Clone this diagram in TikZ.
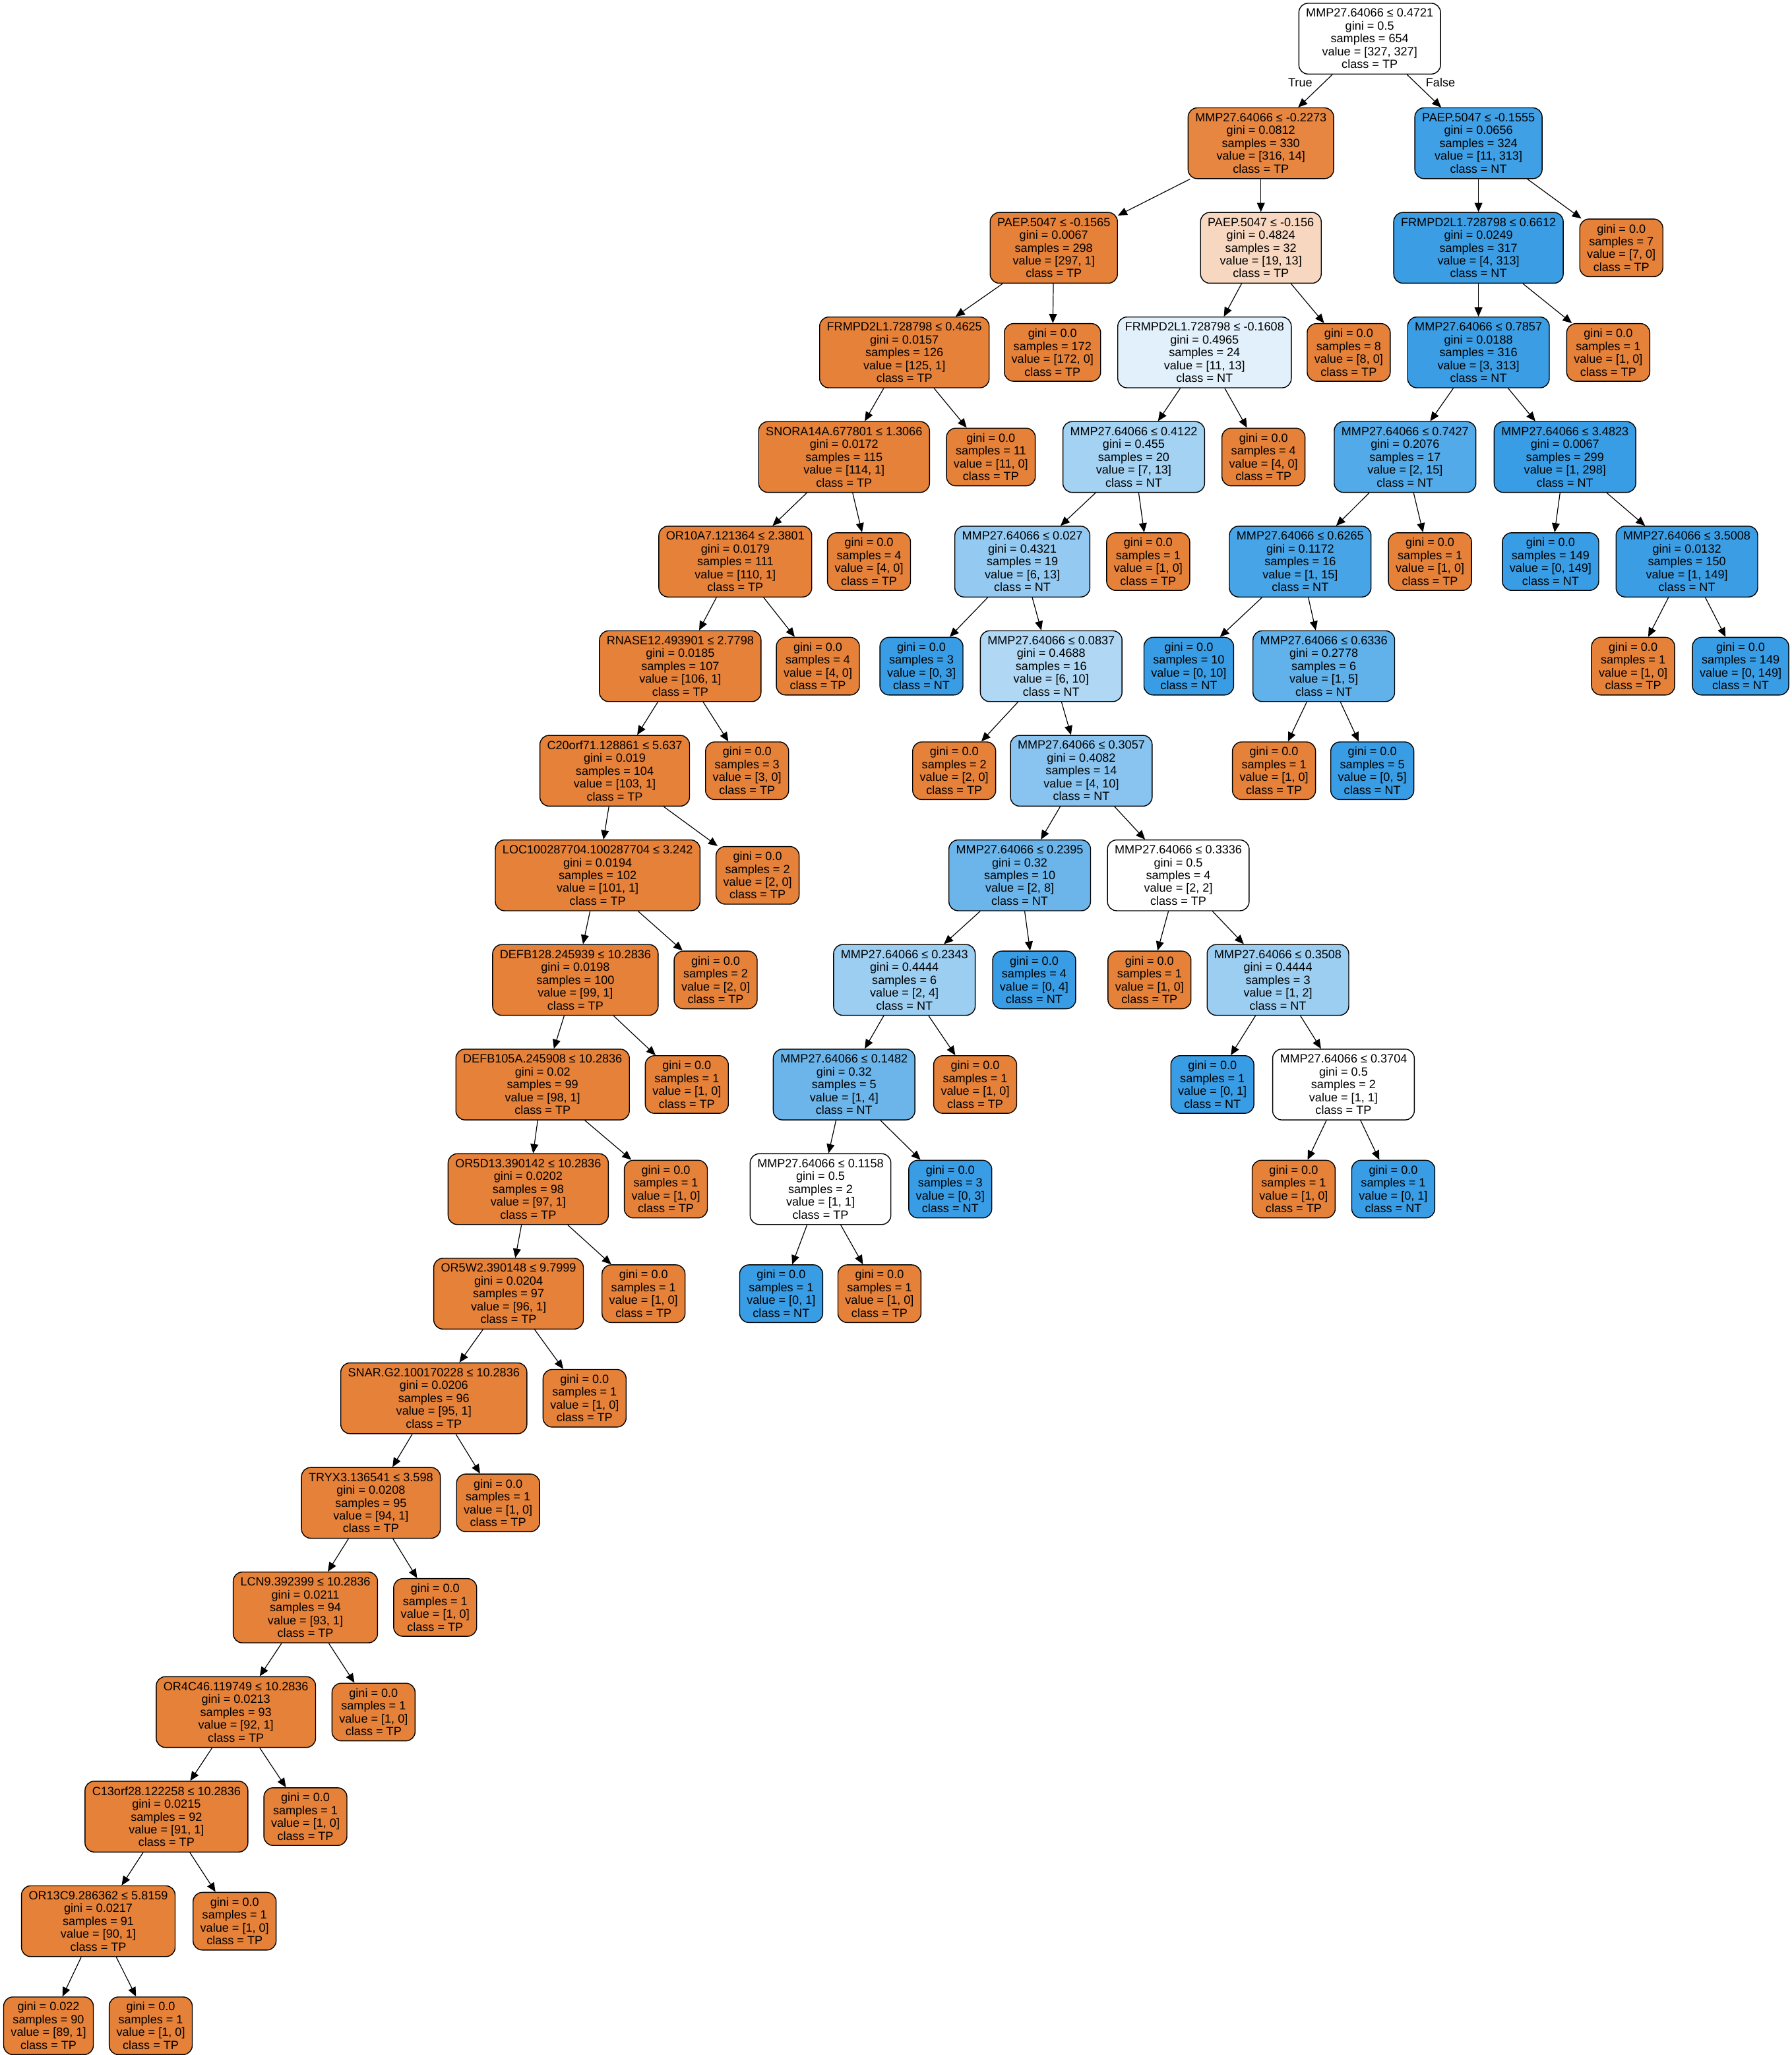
\documentclass[tikz,border=0pt]{standalone}
\usepackage{fontspec}
\setmainfont{Liberation Sans}
\usetikzlibrary{arrows.meta}
\definecolor{TPcol}{RGB}{229,129,57}
\definecolor{NTcol}{RGB}{57,157,229}
\definecolor{RuleCol}{RGB}{0,0,0}
\tikzset{
  dtbox/.style={draw=RuleCol, line width=0.7pt, rounded corners=7pt, align=center, inner xsep=5.5pt, inner ysep=1pt, font=\fontsize{9.1}{9.8}\selectfont},
  dtsplit/.style={dtbox, minimum height=54pt},
  dtleaf/.style={dtbox, minimum height=44pt},
  dttp/.style={fill=TPcol},
  dtnt/.style={fill=NTcol},
  dtedge/.style={-{Triangle[length=7pt,width=6pt]}, line width=0.6pt, draw=RuleCol},
  dtlab/.style={font=\fontsize{9.1}{9.8}\selectfont, inner sep=0pt}
}
\begin{document}
\begin{tikzpicture}[x=1pt,y=-79.8pt]
  \useasboundingbox (0pt,29.5pt) rectangle (1367pt,-1538.5pt);
  \node[dtsplit,fill=white] (n0) at (1045,0) {MMP27.64066 ≤ 0.4721\\gini = 0.5\\samples = 654\\value = [327, 327]\\class = TP};
  \node[dtsplit,fill=TPcol!96!white] (n1) at (962,1) {MMP27.64066 ≤ -0.2273\\gini = 0.0812\\samples = 330\\value = [316, 14]\\class = TP};
  \node[dtsplit,fill=NTcol!97!white] (n64) at (1128,1) {PAEP.5047 ≤ -0.1555\\gini = 0.0656\\samples = 324\\value = [11, 313]\\class = NT};
  \node[dtlab] (ltrue) at (992,0.42) {True};
  \node[dtlab] (lfalse) at (1099,0.42) {False};

  \node[dtsplit,dttp] (n2) at (804,2) {PAEP.5047 ≤ -0.1565\\gini = 0.0067\\samples = 298\\value = [297, 1]\\class = TP};
  \node[dtsplit,dttp] (n3) at (690,3) {FRMPD2L1.728798 ≤ 0.4625\\gini = 0.0157\\samples = 126\\value = [125, 1]\\class = TP};
  \node[dtsplit,dttp] (n4) at (644,4) {SNORA14A.677801 ≤ 1.3066\\gini = 0.0172\\samples = 115\\value = [114, 1]\\class = TP};
  \node[dtsplit,dttp] (n5) at (561,5) {OR10A7.121364 ≤ 2.3801\\gini = 0.0179\\samples = 111\\value = [110, 1]\\class = TP};
  \node[dtsplit,dttp] (n6) at (519,6) {RNASE12.493901 ≤ 2.7798\\gini = 0.0185\\samples = 107\\value = [106, 1]\\class = TP};
  \node[dtsplit,dttp] (n7) at (469,7) {C20orf71.128861 ≤ 5.637\\gini = 0.019\\samples = 104\\value = [103, 1]\\class = TP};
  \node[dtsplit,dttp] (n8) at (456,8) {LOC100287704.100287704 ≤ 3.242\\gini = 0.0194\\samples = 102\\value = [101, 1]\\class = TP};
  \node[dtsplit,dttp] (n9) at (439,9) {DEFB128.245939 ≤ 10.2836\\gini = 0.0198\\samples = 100\\value = [99, 1]\\class = TP};
  \node[dtsplit,dttp] (n10) at (414,10) {DEFB105A.245908 ≤ 10.2836\\gini = 0.02\\samples = 99\\value = [98, 1]\\class = TP};
  \node[dtsplit,dttp] (n11) at (403,11) {OR5D13.390142 ≤ 10.2836\\gini = 0.0202\\samples = 98\\value = [97, 1]\\class = TP};
  \node[dtsplit,dttp] (n12) at (388,12) {OR5W2.390148 ≤ 9.7999\\gini = 0.0204\\samples = 97\\value = [96, 1]\\class = TP};
  \node[dtsplit,dttp] (n13) at (331,13) {SNAR.G2.100170228 ≤ 10.2836\\gini = 0.0206\\samples = 96\\value = [95, 1]\\class = TP};
  \node[dtsplit,dttp] (n14) at (283,14) {TRYX3.136541 ≤ 3.598\\gini = 0.0208\\samples = 95\\value = [94, 1]\\class = TP};
  \node[dtsplit,dttp] (n15) at (233,15) {LCN9.392399 ≤ 10.2836\\gini = 0.0211\\samples = 94\\value = [93, 1]\\class = TP};
  \node[dtsplit,dttp] (n16) at (180,16) {OR4C46.119749 ≤ 10.2836\\gini = 0.0213\\samples = 93\\value = [92, 1]\\class = TP};
  \node[dtsplit,dttp] (n17) at (127,17) {C13orf28.122258 ≤ 10.2836\\gini = 0.0215\\samples = 92\\value = [91, 1]\\class = TP};
  \node[dtsplit,dttp] (n18) at (75,18) {OR13C9.286362 ≤ 5.8159\\gini = 0.0217\\samples = 91\\value = [90, 1]\\class = TP};
  \node[dtleaf,dttp] (n19) at (37,19) {gini = 0.022\\samples = 90\\value = [89, 1]\\class = TP};
  \node[dtleaf,dttp] (n20) at (115,19) {gini = 0.0\\samples = 1\\value = [1, 0]\\class = TP};
  \node[dtleaf,dttp] (n21) at (179,18) {gini = 0.0\\samples = 1\\value = [1, 0]\\class = TP};
  \node[dtleaf,dttp] (n22) at (233,17) {gini = 0.0\\samples = 1\\value = [1, 0]\\class = TP};
  \node[dtleaf,dttp] (n23) at (285,16) {gini = 0.0\\samples = 1\\value = [1, 0]\\class = TP};
  \node[dtleaf,dttp] (n24) at (332,15) {gini = 0.0\\samples = 1\\value = [1, 0]\\class = TP};
  \node[dtleaf,dttp] (n25) at (380,14) {gini = 0.0\\samples = 1\\value = [1, 0]\\class = TP};
  \node[dtleaf,dttp] (n26) at (446,13) {gini = 0.0\\samples = 1\\value = [1, 0]\\class = TP};
  \node[dtleaf,dttp] (n27) at (491,12) {gini = 0.0\\samples = 1\\value = [1, 0]\\class = TP};
  \node[dtleaf,dttp] (n28) at (508,11) {gini = 0.0\\samples = 1\\value = [1, 0]\\class = TP};
  \node[dtleaf,dttp] (n29) at (524,10) {gini = 0.0\\samples = 1\\value = [1, 0]\\class = TP};
  \node[dtleaf,dttp] (n30) at (546,9) {gini = 0.0\\samples = 2\\value = [2, 0]\\class = TP};
  \node[dtleaf,dttp] (n31) at (578,8) {gini = 0.0\\samples = 2\\value = [2, 0]\\class = TP};
  \node[dtleaf,dttp] (n32) at (570,7) {gini = 0.0\\samples = 3\\value = [3, 0]\\class = TP};
  \node[dtleaf,dttp] (n33) at (624,6) {gini = 0.0\\samples = 4\\value = [4, 0]\\class = TP};
  \node[dtleaf,dttp] (n34) at (663,5) {gini = 0.0\\samples = 4\\value = [4, 0]\\class = TP};
  \node[dtleaf,dttp] (n35) at (756,4) {gini = 0.0\\samples = 11\\value = [11, 0]\\class = TP};
  \node[dtleaf,dttp] (n36) at (803,3) {gini = 0.0\\samples = 172\\value = [172, 0]\\class = TP};

  \node[dtsplit,fill=TPcol!32!white] (n37) at (962,2) {PAEP.5047 ≤ -0.156\\gini = 0.4824\\samples = 32\\value = [19, 13]\\class = TP};
  \node[dtsplit,fill=NTcol!15!white] (n38) at (919,3) {FRMPD2L1.728798 ≤ -0.1608\\gini = 0.4965\\samples = 24\\value = [11, 13]\\class = NT};
  \node[dtsplit,fill=NTcol!46!white] (n39) at (865,4) {MMP27.64066 ≤ 0.4122\\gini = 0.455\\samples = 20\\value = [7, 13]\\class = NT};
  \node[dtsplit,fill=NTcol!54!white] (n40) at (780,5) {MMP27.64066 ≤ 0.027\\gini = 0.4321\\samples = 19\\value = [6, 13]\\class = NT};
  \node[dtleaf,dtnt] (n41) at (703,6) {gini = 0.0\\samples = 3\\value = [0, 3]\\class = NT};
  \node[dtsplit,fill=NTcol!40!white] (n42) at (802,6) {MMP27.64066 ≤ 0.0837\\gini = 0.4688\\samples = 16\\value = [6, 10]\\class = NT};
  \node[dtleaf,dttp] (n43) at (728,7) {gini = 0.0\\samples = 2\\value = [2, 0]\\class = TP};
  \node[dtsplit,fill=NTcol!60!white] (n44) at (825,7) {MMP27.64066 ≤ 0.3057\\gini = 0.4082\\samples = 14\\value = [4, 10]\\class = NT};
  \node[dtsplit,fill=NTcol!75!white] (n45) at (778,8) {MMP27.64066 ≤ 0.2395\\gini = 0.32\\samples = 10\\value = [2, 8]\\class = NT};
  \node[dtsplit,fill=NTcol!50!white] (n46) at (690,9) {MMP27.64066 ≤ 0.2343\\gini = 0.4444\\samples = 6\\value = [2, 4]\\class = NT};
  \node[dtsplit,fill=NTcol!75!white] (n47) at (644,10) {MMP27.64066 ≤ 0.1482\\gini = 0.32\\samples = 5\\value = [1, 4]\\class = NT};
  \node[dtsplit,fill=white] (n48) at (626,11) {MMP27.64066 ≤ 0.1158\\gini = 0.5\\samples = 2\\value = [1, 1]\\class = TP};
  \node[dtleaf,dtnt] (n49) at (596,12) {gini = 0.0\\samples = 1\\value = [0, 1]\\class = NT};
  \node[dtleaf,dttp] (n50) at (671,12) {gini = 0.0\\samples = 1\\value = [1, 0]\\class = TP};
  \node[dtleaf,dtnt] (n51) at (725,11) {gini = 0.0\\samples = 3\\value = [0, 3]\\class = NT};
  \node[dtleaf,dttp] (n52) at (744,10) {gini = 0.0\\samples = 1\\value = [1, 0]\\class = TP};
  \node[dtleaf,dtnt] (n53) at (789,9) {gini = 0.0\\samples = 4\\value = [0, 4]\\class = NT};
  \node[dtsplit,fill=white] (n54) at (899,8) {MMP27.64066 ≤ 0.3336\\gini = 0.5\\samples = 4\\value = [2, 2]\\class = TP};
  \node[dtleaf,dttp] (n55) at (877,9) {gini = 0.0\\samples = 1\\value = [1, 0]\\class = TP};
  \node[dtsplit,fill=NTcol!50!white] (n56) at (975,9) {MMP27.64066 ≤ 0.3508\\gini = 0.4444\\samples = 3\\value = [1, 2]\\class = NT};
  \node[dtleaf,dtnt] (n57) at (925,10) {gini = 0.0\\samples = 1\\value = [0, 1]\\class = NT};
  \node[dtsplit,fill=white] (n58) at (1025,10) {MMP27.64066 ≤ 0.3704\\gini = 0.5\\samples = 2\\value = [1, 1]\\class = TP};
  \node[dtleaf,dttp] (n59) at (987,11) {gini = 0.0\\samples = 1\\value = [1, 0]\\class = TP};
  \node[dtleaf,dtnt] (n60) at (1063,11) {gini = 0.0\\samples = 1\\value = [0, 1]\\class = NT};
  \node[dtleaf,dttp] (n61) at (876,5) {gini = 0.0\\samples = 1\\value = [1, 0]\\class = TP};
  \node[dtleaf,dttp] (n62) at (964,4) {gini = 0.0\\samples = 4\\value = [4, 0]\\class = TP};
  \node[dtleaf,dttp] (n63) at (1029,3) {gini = 0.0\\samples = 8\\value = [8, 0]\\class = TP};

  \node[dtsplit,fill=NTcol!99!white] (n65) at (1128,2) {FRMPD2L1.728798 ≤ 0.6612\\gini = 0.0249\\samples = 317\\value = [4, 313]\\class = NT};
  \node[dtsplit,fill=NTcol!99!white] (n66) at (1128,3) {MMP27.64066 ≤ 0.7857\\gini = 0.0188\\samples = 316\\value = [3, 313]\\class = NT};
  \node[dtsplit,fill=NTcol!87!white] (n67) at (1072,4) {MMP27.64066 ≤ 0.7427\\gini = 0.2076\\samples = 17\\value = [2, 15]\\class = NT};
  \node[dtsplit,fill=NTcol!93!white] (n68) at (992,5) {MMP27.64066 ≤ 0.6265\\gini = 0.1172\\samples = 16\\value = [1, 15]\\class = NT};
  \node[dtleaf,dtnt] (n69) at (907,6) {gini = 0.0\\samples = 10\\value = [0, 10]\\class = NT};
  \node[dtsplit,fill=NTcol!80!white] (n70) at (1010,6) {MMP27.64066 ≤ 0.6336\\gini = 0.2778\\samples = 6\\value = [1, 5]\\class = NT};
  \node[dtleaf,dttp] (n71) at (972,7) {gini = 0.0\\samples = 1\\value = [1, 0]\\class = TP};
  \node[dtleaf,dtnt] (n72) at (1047,7) {gini = 0.0\\samples = 5\\value = [0, 5]\\class = NT};
  \node[dtleaf,dttp] (n73) at (1091,5) {gini = 0.0\\samples = 1\\value = [1, 0]\\class = TP};
  \node[dtsplit,dtnt] (n74) at (1194,4) {MMP27.64066 ≤ 3.4823\\gini = 0.0067\\samples = 299\\value = [1, 298]\\class = NT};
  \node[dtleaf,dtnt] (n75) at (1183,5) {gini = 0.0\\samples = 149\\value = [0, 149]\\class = NT};
  \node[dtsplit,fill=NTcol!99!white] (n76) at (1287,5) {MMP27.64066 ≤ 3.5008\\gini = 0.0132\\samples = 150\\value = [1, 149]\\class = NT};
  \node[dtleaf,dttp] (n77) at (1246,6) {gini = 0.0\\samples = 1\\value = [1, 0]\\class = TP};
  \node[dtleaf,dtnt] (n78) at (1328,6) {gini = 0.0\\samples = 149\\value = [0, 149]\\class = NT};
  \node[dtleaf,dttp] (n79) at (1227,3) {gini = 0.0\\samples = 1\\value = [1, 0]\\class = TP};
  \node[dtleaf,dttp] (n80) at (1237,2) {gini = 0.0\\samples = 7\\value = [7, 0]\\class = TP};

  \draw[dtedge] (n0) -- (n1);   \draw[dtedge] (n0) -- (n64);
  \draw[dtedge] (n1) -- (n2);   \draw[dtedge] (n1) -- (n37);
  \draw[dtedge] (n2) -- (n3);   \draw[dtedge] (n2) -- (n36);
  \draw[dtedge] (n3) -- (n4);   \draw[dtedge] (n3) -- (n35);
  \draw[dtedge] (n4) -- (n5);   \draw[dtedge] (n4) -- (n34);
  \draw[dtedge] (n5) -- (n6);   \draw[dtedge] (n5) -- (n33);
  \draw[dtedge] (n6) -- (n7);   \draw[dtedge] (n6) -- (n32);
  \draw[dtedge] (n7) -- (n8);   \draw[dtedge] (n7) -- (n31);
  \draw[dtedge] (n8) -- (n9);   \draw[dtedge] (n8) -- (n30);
  \draw[dtedge] (n9) -- (n10);  \draw[dtedge] (n9) -- (n29);
  \draw[dtedge] (n10) -- (n11); \draw[dtedge] (n10) -- (n28);
  \draw[dtedge] (n11) -- (n12); \draw[dtedge] (n11) -- (n27);
  \draw[dtedge] (n12) -- (n13); \draw[dtedge] (n12) -- (n26);
  \draw[dtedge] (n13) -- (n14); \draw[dtedge] (n13) -- (n25);
  \draw[dtedge] (n14) -- (n15); \draw[dtedge] (n14) -- (n24);
  \draw[dtedge] (n15) -- (n16); \draw[dtedge] (n15) -- (n23);
  \draw[dtedge] (n16) -- (n17); \draw[dtedge] (n16) -- (n22);
  \draw[dtedge] (n17) -- (n18); \draw[dtedge] (n17) -- (n21);
  \draw[dtedge] (n18) -- (n19); \draw[dtedge] (n18) -- (n20);
  \draw[dtedge] (n37) -- (n38); \draw[dtedge] (n37) -- (n63);
  \draw[dtedge] (n38) -- (n39); \draw[dtedge] (n38) -- (n62);
  \draw[dtedge] (n39) -- (n40); \draw[dtedge] (n39) -- (n61);
  \draw[dtedge] (n40) -- (n41); \draw[dtedge] (n40) -- (n42);
  \draw[dtedge] (n42) -- (n43); \draw[dtedge] (n42) -- (n44);
  \draw[dtedge] (n44) -- (n45); \draw[dtedge] (n44) -- (n54);
  \draw[dtedge] (n45) -- (n46); \draw[dtedge] (n45) -- (n53);
  \draw[dtedge] (n46) -- (n47); \draw[dtedge] (n46) -- (n52);
  \draw[dtedge] (n47) -- (n48); \draw[dtedge] (n47) -- (n51);
  \draw[dtedge] (n48) -- (n49); \draw[dtedge] (n48) -- (n50);
  \draw[dtedge] (n54) -- (n55); \draw[dtedge] (n54) -- (n56);
  \draw[dtedge] (n56) -- (n57); \draw[dtedge] (n56) -- (n58);
  \draw[dtedge] (n58) -- (n59); \draw[dtedge] (n58) -- (n60);
  \draw[dtedge] (n64) -- (n65); \draw[dtedge] (n64) -- (n80);
  \draw[dtedge] (n65) -- (n66); \draw[dtedge] (n65) -- (n79);
  \draw[dtedge] (n66) -- (n67); \draw[dtedge] (n66) -- (n74);
  \draw[dtedge] (n67) -- (n68); \draw[dtedge] (n67) -- (n73);
  \draw[dtedge] (n68) -- (n69); \draw[dtedge] (n68) -- (n70);
  \draw[dtedge] (n70) -- (n71); \draw[dtedge] (n70) -- (n72);
  \draw[dtedge] (n74) -- (n75); \draw[dtedge] (n74) -- (n76);
  \draw[dtedge] (n76) -- (n77); \draw[dtedge] (n76) -- (n78);
\end{tikzpicture}
\end{document}
